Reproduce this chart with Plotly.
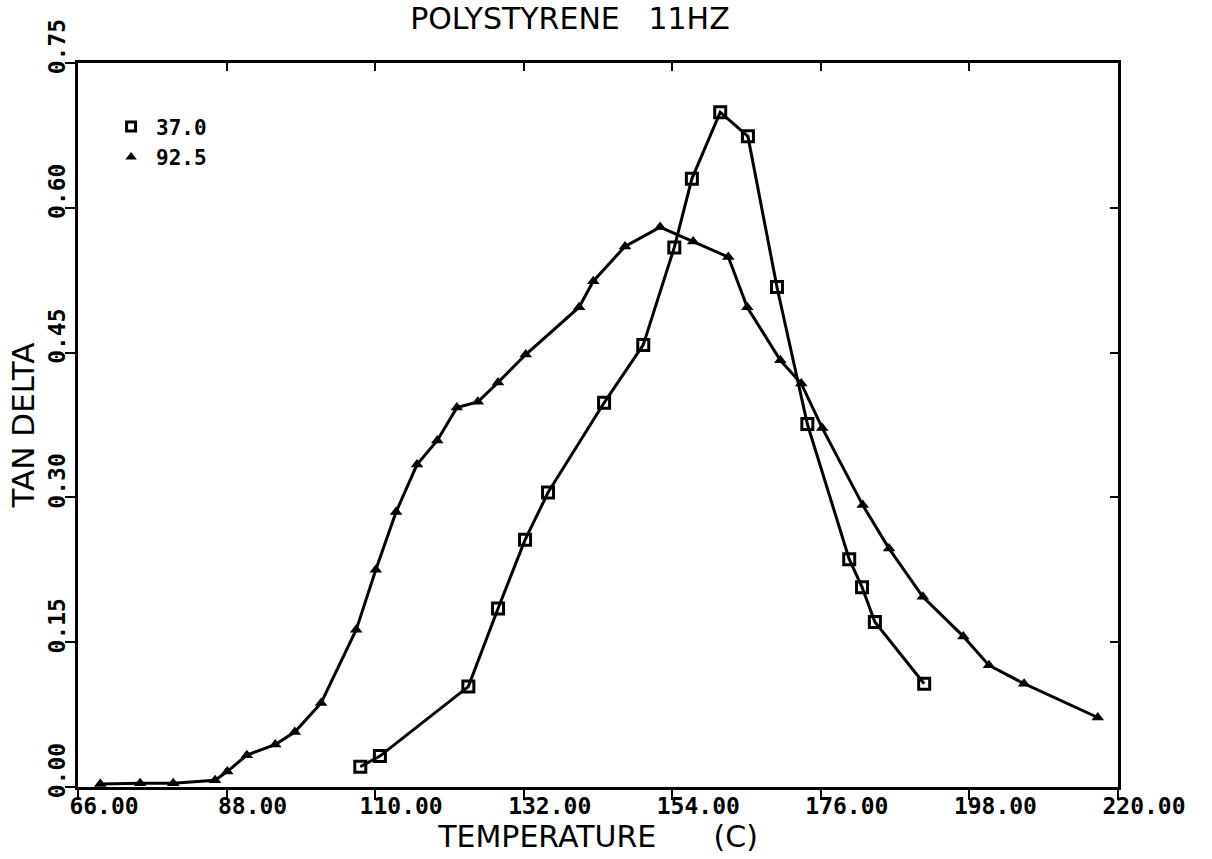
import plotly.graph_objects as go

# 37.0 series (open squares)
temp_37 = [107.8, 110.7, 123.8, 128.2, 132.2, 135.6, 143.9, 149.7, 154.3, 156.9,
           161.1, 165.2, 169.5, 174.0, 180.2, 182.1, 184.0, 191.3]
tan_37 = [0.021, 0.032, 0.104, 0.185, 0.256, 0.305, 0.398, 0.458, 0.559, 0.630,
          0.699, 0.674, 0.518, 0.376, 0.236, 0.207, 0.171, 0.107]

# 92.5 series (filled triangles)
temp_92 = [69.3, 75.2, 80.1, 86.3, 88.1, 91.0, 95.2, 98.1, 102.0, 107.2,
           110.1, 113.1, 116.2, 119.2, 122.1, 125.2, 128.2, 132.3, 140.2, 142.3,
           147.0, 152.2, 157.1, 162.3, 165.1, 170.0, 173.1, 176.2, 182.2, 186.1,
           191.1, 197.1, 200.9, 206.1, 217.0]
tan_92 = [0.003, 0.004, 0.004, 0.007, 0.016, 0.033, 0.044, 0.057, 0.087, 0.163,
          0.225, 0.285, 0.334, 0.359, 0.393, 0.399, 0.419, 0.448, 0.497, 0.524,
          0.560, 0.580, 0.565, 0.549, 0.497, 0.442, 0.418, 0.372, 0.292, 0.247,
          0.197, 0.156, 0.126, 0.107, 0.072]

x_ticks = [66, 88, 110, 132, 154, 176, 198, 220]
x_tick_labels = ["66.00", "88.00", "110.00", "132.00", "154.00", "176.00", "198.00", "220.00"]
y_ticks = [0.0, 0.15, 0.30, 0.45, 0.60, 0.75]
y_tick_labels = ["0.00", "0.15", "0.30", "0.45", "0.60", "0.75"]

FONT = "DejaVu Sans"
MONO = "DejaVu Sans Mono"
BLACK = "#000000"

fig = go.Figure()

fig.add_trace(go.Scatter(
    x=temp_37, y=tan_37, mode="lines+markers", showlegend=False,
    line=dict(color=BLACK, width=3),
    marker=dict(symbol="square-open", size=11, color=BLACK, line=dict(width=3, color=BLACK)),
))
fig.add_trace(go.Scatter(
    x=temp_92, y=tan_92, mode="lines+markers", showlegend=False,
    line=dict(color=BLACK, width=3),
    marker=dict(symbol="triangle-up", size=11, color=BLACK),
))
# legend entries (markers only)
fig.add_trace(go.Scatter(
    x=[None], y=[None], mode="markers", name="37.0",
    marker=dict(symbol="square-open", size=9, color=BLACK, line=dict(width=3, color=BLACK)),
))
fig.add_trace(go.Scatter(
    x=[None], y=[None], mode="markers", name="92.5",
    marker=dict(symbol="triangle-up", size=10, color=BLACK),
))
# dummy traces so the extra tick-only axes get drawn
fig.add_trace(go.Scatter(x=[None], y=[None], xaxis="x2", yaxis="y2",
                         showlegend=False, hoverinfo="skip"))
fig.add_trace(go.Scatter(x=[None], y=[None], xaxis="x3", yaxis="y3",
                         showlegend=False, hoverinfo="skip"))

tick_axis_common = dict(showticklabels=False, showgrid=False, zeroline=False,
                        automargin=False, showline=True, linecolor=BLACK, linewidth=3,
                        tickwidth=2, tickcolor=BLACK)

fig.update_layout(
    width=1212, height=859,
    margin=dict(l=78, r=94, t=63, b=72, autoexpand=False),
    paper_bgcolor="white", plot_bgcolor="white",
    font=dict(family=FONT, color=BLACK, size=20),
    title=dict(text="POLYSTYRENE   11HZ", x=0.473, xref="paper", xanchor="center",
               y=0.979, yref="container", yanchor="middle",
               font=dict(family=FONT, size=30, color=BLACK)),
    xaxis=dict(
        range=[66, 220], tickvals=x_ticks, ticktext=x_tick_labels, automargin=False,
        showgrid=False, zeroline=False, showline=True, linecolor=BLACK, linewidth=3,
        ticks="", ticklabelshift=26, ticklabelstandoff=-4,
        tickfont=dict(family=MONO, size=23, color=BLACK, weight="bold"),
        title=dict(text="TEMPERATURE      (C)", standoff=6,
                   font=dict(family=FONT, size=30, color=BLACK)),
    ),
    yaxis=dict(
        range=[0, 0.75], tickvals=y_ticks, ticktext=y_tick_labels, automargin=False,
        showgrid=False, zeroline=False, showline=True, linecolor=BLACK, linewidth=3,
        ticks="", tickangle=-90, ticklabelshift=-13, ticklabelstandoff=1,
        tickfont=dict(family=MONO, size=23, color=BLACK, weight="bold"),
        title=dict(text="TAN DELTA", standoff=0,
                   font=dict(family=FONT, size=31, color=BLACK)),
    ),
    # top axis: inward ticks
    xaxis2=dict(overlaying="x", matches="x", side="top", range=[66, 220],
                tickvals=x_ticks, ticks="inside", ticklen=8, **tick_axis_common),
    # right axis: inward ticks
    yaxis2=dict(overlaying="y", matches="y", side="right", range=[0, 0.75],
                tickvals=y_ticks, ticks="inside", ticklen=8, **tick_axis_common),
    # bottom axis: outward ticks
    xaxis3=dict(overlaying="x", matches="x", side="bottom", range=[66, 220],
                tickvals=x_ticks, ticks="outside", ticklen=10, **tick_axis_common),
    # left axis: outward ticks
    yaxis3=dict(overlaying="y", matches="y", side="left", range=[0, 0.75],
                tickvals=y_ticks, ticks="outside", ticklen=10, **tick_axis_common),
    legend=dict(x=0.027, y=0.94, xanchor="left", yanchor="top",
                bgcolor="rgba(0,0,0,0)", borderwidth=0,
                font=dict(family=MONO, size=21, color=BLACK, weight="bold"),
                itemwidth=40, tracegroupgap=0),
)

fig.write_html("out.html")
